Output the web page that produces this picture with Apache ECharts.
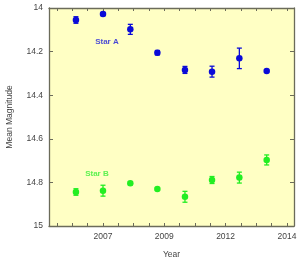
<!DOCTYPE html>
<html>
<head>
<meta charset="utf-8">
<script src="https://cdn.jsdelivr.net/npm/echarts@6/dist/echarts.min.js"></script>
<style>
  html, body { margin: 0; padding: 0; background: #fff; }
  #chart { width: 300px; height: 263px; }
</style>
</head>
<body>
<div id="chart"></div>
<script>
// data
var years = [2005.97, 2007.0, 2008.04, 2009.07, 2010.12, 2011.15, 2012.19, 2013.23]
var starA = [14.055, 14.028, 14.098, 14.205, 14.284, 14.292, 14.231, 14.289]
var starAErr = [0.015, 0.007, 0.023, 0.010, 0.016, 0.025, 0.047, 0.005]
var starB = [14.844, 14.838, 14.804, 14.830, 14.866, 14.789, 14.778, 14.697]
var starBErr = [0.015, 0.025, 0.007, 0.006, 0.025, 0.016, 0.025, 0.023]
var yTicks = [14, 14.2, 14.4, 14.6, 14.8, 15]
// x tick labels sit every 7/3 year, minor ticks every 7/12
var xLabelVals = [2007, 2007 + 7 / 3, 2007 + 14 / 3, 2014]
var xTickVals = []
for (var k = -3; k <= 12; k++) xTickVals.push(2007 + k * 7 / 12)
var annotations = [
  { name: 'Star A', x: 2007.15, y: 14.155, color: '#1a1ad8' },
  { name: 'Star B', x: 2006.77, y: 14.76, color: '#33ee33' }
]

var blue = '#0a0ad8'
var green = '#22ee22'
var axisColor = '#6b6b5a'
var font = 'Liberation Sans, Arial, sans-serif'

function errorSeries (vals, errs, color) {
  return {
    type: 'custom',
    data: years.map(function (x, i) { return [x, vals[i] - errs[i], vals[i] + errs[i]] }),
    renderItem: function (params, api) {
      var lo = api.coord([api.value(0), api.value(1)])
      var hi = api.coord([api.value(0), api.value(2)])
      var w = 2.5
      var st = { stroke: color, lineWidth: 1.3 }
      return {
        type: 'group',
        children: [
          { type: 'line', shape: { x1: lo[0], y1: lo[1], x2: hi[0], y2: hi[1] }, style: st },
          { type: 'line', shape: { x1: lo[0] - w, y1: lo[1], x2: lo[0] + w, y2: lo[1] }, style: st },
          { type: 'line', shape: { x1: hi[0] - w, y1: hi[1], x2: hi[0] + w, y2: hi[1] }, style: st }
        ]
      }
    },
    z: 2
  }
}

function fmtY (v) {
  var r = Math.round(v * 10) / 10
  return String(r)
}

var chart = echarts.init(document.getElementById('chart'), null, { renderer: 'canvas' })
chart.setOption({
  backgroundColor: '#fff',
  animation: false,
  textStyle: { fontFamily: font },
  grid: { left: 49, top: 8, right: 6, bottom: 37, show: true, backgroundColor: '#ffffc4', borderWidth: 0,
    containLabel: false, outerBoundsMode: 'none' },
  xAxis: [{
    type: 'value', min: 2004.945, max: 2014.27, position: 'bottom',
    name: 'Year', nameLocation: 'middle', nameGap: 24,
    nameTextStyle: { fontSize: 8.5, color: '#444', fontFamily: font },
    axisLine: { lineStyle: { color: axisColor, width: 1.3 } },
    axisTick: { inside: true, length: 3, customValues: xTickVals, lineStyle: { color: axisColor } },
    axisLabel: { customValues: xLabelVals, margin: 6, fontSize: 8.5, color: '#444', fontFamily: font,
      formatter: function (v) { return String(Math.round(v)) } },
    splitLine: { show: false }
  }, {
    type: 'value', min: 2004.945, max: 2014.27, position: 'top',
    axisLine: { show: true, lineStyle: { color: axisColor, width: 1.3 } },
    axisTick: { inside: true, length: 3, customValues: xTickVals, lineStyle: { color: axisColor } },
    axisLabel: { show: false },
    splitLine: { show: false }
  }],
  yAxis: [{
    type: 'value', inverse: true, min: 14, max: 15, position: 'left',
    name: 'Mean Magnitude', nameLocation: 'middle', nameGap: 35,
    nameTextStyle: { fontSize: 8.5, color: '#444', fontFamily: font },
    axisLine: { show: true, lineStyle: { color: axisColor, width: 1.3 } },
    axisTick: { inside: true, length: 4, customValues: yTicks, lineStyle: { color: axisColor } },
    axisLabel: { customValues: yTicks, margin: 6, fontSize: 8.5, color: '#444', fontFamily: font, formatter: fmtY },
    splitLine: { show: false }
  }, {
    type: 'value', inverse: true, min: 14, max: 15, position: 'right',
    axisLine: { show: true, lineStyle: { color: axisColor, width: 1.3 } },
    axisTick: { inside: true, length: 4, customValues: yTicks, lineStyle: { color: axisColor } },
    axisLabel: { show: false },
    splitLine: { show: false }
  }],
  series: [
    errorSeries(starA, starAErr, blue),
    errorSeries(starB, starBErr, green),
    {
      type: 'scatter', symbol: 'circle', symbolSize: 6.5,
      itemStyle: { color: blue, opacity: 1 },
      data: years.map(function (x, i) { return [x, starA[i]] }), z: 3
    },
    {
      type: 'scatter', symbol: 'circle', symbolSize: 6.5,
      itemStyle: { color: green, opacity: 1 },
      data: years.map(function (x, i) { return [x, starB[i]] }), z: 3
    },
    {
      type: 'scatter', symbolSize: 0, silent: true,
      data: annotations.map(function (a) {
        return {
          value: [a.x, a.y],
          label: { show: true, position: 'inside', formatter: a.name, color: a.color,
            fontSize: 8, fontWeight: 'bold', fontFamily: font }
        }
      })
    }
  ]
})
</script>
</body>
</html>
